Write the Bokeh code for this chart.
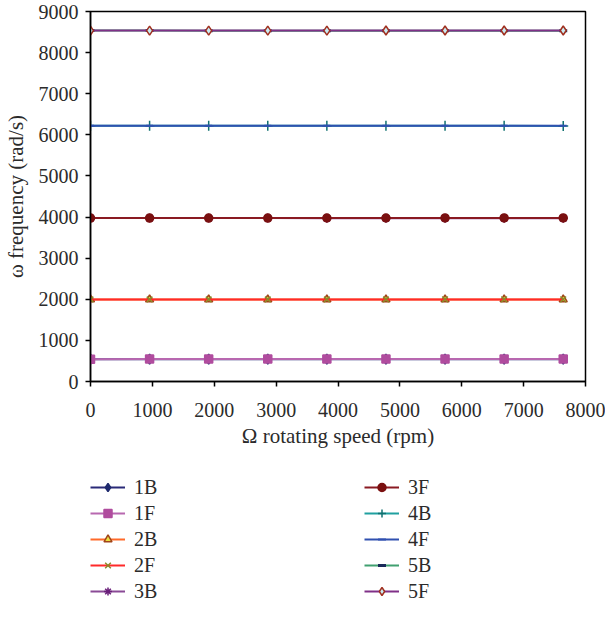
from bokeh.plotting import figure
from bokeh.models import Legend, LegendItem, FixedTicker, Range1d
from bokeh.layouts import column
from bokeh.embed import file_html
from bokeh.resources import INLINE

# ---- data ----
speed = [0, 955, 1910, 2865, 3820, 4775, 5730, 6685, 7640]
series_names = ["1B", "1F", "2B", "2F", "3B", "3F", "4B", "4F", "5B", "5F"]
f_1B = [544, 544, 544, 544, 544, 543, 543, 543, 543]
f_1F = [544, 545, 545, 545, 546, 546, 546, 547, 547]
f_2B = [1995, 1995, 1995, 1994, 1994, 1994, 1994, 1993, 1993]
f_2F = [1995, 1995, 1996, 1996, 1996, 1996, 1997, 1997, 1997]
f_3B = [3975, 3975, 3974, 3974, 3973, 3973, 3972, 3972, 3971]
f_3F = [3975, 3975, 3976, 3976, 3977, 3977, 3978, 3978, 3979]
f_4B = [6220, 6220, 6219, 6219, 6219, 6218, 6218, 6218, 6217]
f_4F = [6220, 6220, 6221, 6221, 6221, 6222, 6222, 6222, 6223]
f_5B = [8535, 8535, 8534, 8534, 8534, 8533, 8533, 8533, 8532]
f_5F = [8535, 8535, 8536, 8536, 8536, 8537, 8537, 8537, 8538]
x_ticks = [0, 1000, 2000, 3000, 4000, 5000, 6000, 7000, 8000]
y_ticks = [0, 1000, 2000, 3000, 4000, 5000, 6000, 7000, 8000, 9000]

values = [f_1B, f_1F, f_2B, f_2F, f_3B, f_3F, f_4B, f_4F, f_5B, f_5F]

# styles: (line color, marker, marker fill, marker line, size, marker line width)
styles = [
    ("#2a2a78", "diamond", "#1f2a6e", "#1f2a6e", 10, 1.5),
    ("#b868b0", "square", "#b04c9e", "#b04c9e", 8, 1.5),
    ("#ff6a2a", "triangle", "#e8e040", "#a04418", 8, 1.5),
    ("#ff2a2a", "x", None, "#8a8a2a", 8, 1.5),
    ("#8a4a96", "asterisk", None, "#6a1f7a", 9, 1.5),
    ("#8a1a22", "circle", "#7a1010", "#7a1010", 8, 1.5),
    ("#20a0a0", "cross", None, "#107070", 10, 1.5),
    ("#3050b0", "dash", None, "#3050b0", 7, 2),
    ("#40a070", "dash", None, "#1a2a5a", 8, 3),
    ("#803088", "diamond", "#c8ecf4", "#a03020", 9, 1.5),
]

FONT = "Liberation Serif"
TXT = "#2b2b2b"

p = figure(width=605, height=456, x_range=(0, 8000), y_range=(0, 9000),
           output_backend="svg", toolbar_location=None,
           min_border_left=84, min_border_right=20, min_border_top=11,
           min_border_bottom=75)
p.grid.visible = False
p.outline_line_color = "black"
p.outline_line_width = 1.5

for ys, (lc, mk, mf, ml, sz, mw) in zip(values, styles):
    p.line(speed, ys, line_color=lc, line_width=2)
    p.scatter(speed, ys, marker=mk, size=sz, fill_color=mf,
              line_color=ml, line_width=mw)

for ax in (p.xaxis[0], p.yaxis[0]):
    ax.axis_line_color = "black"
    ax.axis_line_width = 1.5
    ax.major_tick_line_color = "black"
    ax.major_tick_line_width = 1.5
    ax.major_tick_out = 5
    ax.major_tick_in = 0
    ax.minor_tick_line_color = None
    ax.major_label_text_font = FONT
    ax.major_label_text_font_size = "20px"
    ax.major_label_text_color = TXT
    ax.axis_label_text_font = FONT
    ax.axis_label_text_font_size = "21px"
    ax.axis_label_text_color = TXT
    ax.axis_label_text_font_style = "normal"

p.xaxis.ticker = FixedTicker(ticks=x_ticks)
p.yaxis.ticker = FixedTicker(ticks=y_ticks)
p.xaxis.axis_label = "\u03a9 rotating speed (rpm)"
p.yaxis.axis_label = "\u03c9 frequency (rad/s)"
p.xaxis.major_label_standoff = 16
p.yaxis.major_label_standoff = 7
p.xaxis.axis_label_standoff = 4
p.yaxis.axis_label_standoff = 8

# legend panel below the chart (its renderers sit outside its visible range)
lg = figure(width=605, height=145, x_range=Range1d(0, 1), y_range=Range1d(-2, -1),
            output_backend="svg", toolbar_location=None,
            min_border_left=0, min_border_right=0, min_border_top=0,
            min_border_bottom=0)
lg.axis.visible = False
lg.grid.visible = False
lg.outline_line_color = None

items = []
for name, ys, (lc, mk, mf, ml, sz, mw) in zip(series_names, values, styles):
    r1 = lg.line(speed, ys, line_color=lc, line_width=2)
    r2 = lg.scatter(speed, ys, marker=mk, size=sz, fill_color=mf,
                    line_color=ml, line_width=mw)
    items.append(LegendItem(label=name, renderers=[r1, r2]))

common = dict(glyph_width=35, glyph_height=20, label_height=24,
              label_standoff=9, spacing=2, padding=0, margin=0,
              border_line_color=None, background_fill_alpha=0,
              label_text_font=FONT, label_text_font_size="20px",
              label_text_color=TXT)
leg_a = Legend(items=items[:5], location=(0, -2), **common)
leg_b = Legend(items=items[5:], location=(274, -2), **common)
lg.add_layout(leg_a, "center")
lg.add_layout(leg_b, "center")

layout = column(p, lg, spacing=0)
open("out.html", "w").write(file_html(layout, INLINE))
